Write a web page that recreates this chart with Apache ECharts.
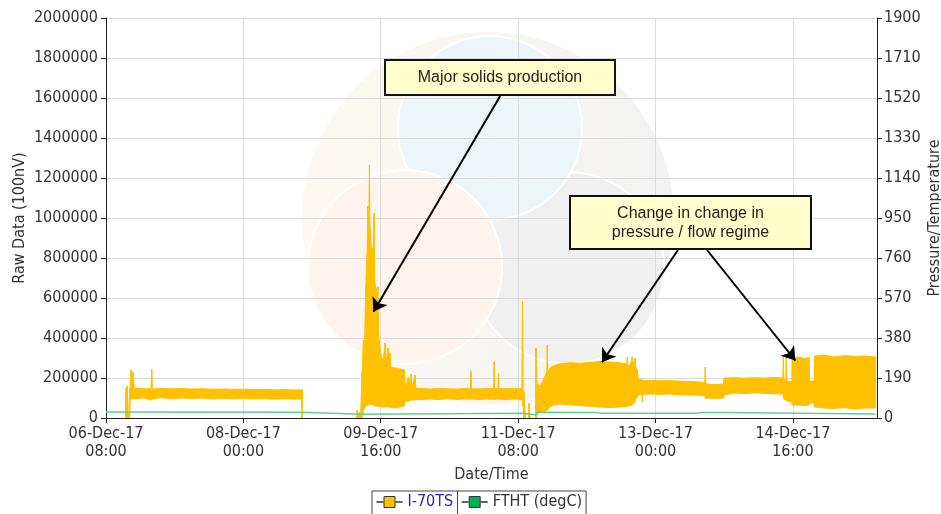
<!DOCTYPE html>
<html>
<head>
<meta charset="utf-8">
<script src="https://cdn.jsdelivr.net/npm/echarts@6/dist/echarts.min.js"></script>
<style>
  html, body { margin: 0; padding: 0; background: #ffffff; }
  #chart { width: 941px; height: 514px; }
</style>
</head>
<body>
<div id="chart"></div>
<script>
// x values are hours counted from 06-Dec-17 08:00
const startTime = Date.UTC(2017, 11, 6, 8, 0);
const monthNames = ['Jan','Feb','Mar','Apr','May','Jun','Jul','Aug','Sep','Oct','Nov','Dec'];
const xMaxHours = 224.5;

// I-70TS raw data envelope: hour, lowest and highest reading in each slot
const rawHours = [
  0, 5.7, 5.85, 6.2, 6.5, 6.9, 7.0, 7.3, 7.6, 7.9, 8.2, 9.5, 11, 13.1, 13.3, 13.5,
  16, 19, 22, 25, 28, 31, 34, 37, 40, 43, 46, 49, 52, 55, 57.0, 57.1, 57.2,
  72.9, 73.1, 73.4, 73.8, 74.1,
  74.58, 74.96, 75.3, 75.66, 76.04, 76.24, 76.42, 76.56, 76.71, 76.85, 77.12, 77.35,
  77.58, 77.78, 78.08, 78.22, 78.57, 78.86, 79.15, 79.33, 79.53, 79.91, 80.32, 80.7,
  81.28, 81.46, 82.16, 82.33, 82.74, 82.91, 84.19, 85.65, 86.82, 87.11, 88.07, 88.27,
  88.86, 89.03, 90.02, 90.2,
  92, 94.5, 97, 99.5, 102, 104.5, 106.1, 106.25, 106.4, 108.5, 111, 112.9, 113.04, 113.2,
  114.15, 114.29, 114.45, 116.5, 119, 121.1, 121.28, 121.45, 121.7, 121.9, 122.2,
  123.0, 123.2, 123.5, 125.05,
  125.2, 125.5, 126.4, 127.6, 128.4, 128.5, 128.65, 129.4, 130.2, 132.3, 135.2, 138.1,
  141.0, 143.9, 146.8, 149.7, 151.7, 151.8, 151.95, 152.6, 153.2, 153.35, 154.1, 154.25,
  154.7, 155.0, 156.1, 156.2, 156.35, 158.5, 161.4, 164.3, 167.2, 170.1, 172.5, 174.35,
  174.5, 174.65, 175.0, 177.5, 179.8, 180.0, 183, 186, 189, 192, 195, 197.1, 197.25,
  197.4, 198.0, 198.1, 198.25, 199.7, 199.85, 201.5, 203.2, 204.7, 204.8, 206.2, 206.3,
  209, 212, 215, 218, 221, 224.1
];
const rawLow = [
  0, 0, 0, 0, 0, 0, 95000, 90000, 95000, 100000, 95000, 98000, 100000, 90000, 90000, 95000,
  102000, 96000, 100000, 97000, 100000, 95000, 99000, 96000, 98000, 95000, 97000, 94000, 96000, 94000, 95000, 0, 0,
  0, 0, 0, 0, 0,
  0, 40000, 50000, 60000, 62000, 65000, 70000, 70000, 70000, 70000, 68000, 66000,
  65000, 65000, 64000, 62000, 60000, 60000, 60000, 60000, 58000, 56000, 55000, 55000,
  55000, 55000, 55000, 55000, 52000, 52000, 50000, 55000, 60000, 85000, 85000, 88000,
  90000, 90000, 90000, 92000,
  92000, 95000, 92000, 96000, 93000, 95000, 94000, 94000, 95000, 92000, 95000, 94000, 94000, 93000,
  95000, 95000, 94000, 92000, 95000, 93000, 85000, 60000, 0, 0, 0,
  0, 0, 0, 0,
  0, 20000, 30000, 30000, 40000, 40000, 45000, 55000, 65000, 70000, 65000, 62000,
  58000, 55000, 52000, 55000, 58000, 58000, 60000, 62000, 65000, 70000, 80000, 95000,
  105000, 115000, 118000, 80000, 118000, 120000, 118000, 120000, 116000, 115000, 114000, 112000,
  100000, 95000, 100000, 98000, 100000, 115000, 125000, 122000, 126000, 123000, 121000, 120000, 110000,
  95000, 90000, 90000, 85000, 80000, 65000, 65000, 62000, 65000, 75000, 75000, 55000,
  50000, 48000, 52000, 45000, 50000, 50000
];
const rawHigh = [
  0, 0, 150000, 160000, 20000, 0, 150000, 240000, 150000, 230000, 148000, 150000, 146000, 147000, 245000, 145000,
  148000, 146000, 147000, 145000, 146000, 144000, 145000, 143000, 144000, 142000, 143000, 141000, 142000, 140000, 141000, 141000, 0,
  0, 40000, 0, 30000, 0,
  230000, 390000, 380000, 655000, 820000, 1060000, 900000, 1000000, 1265000, 950000, 880000, 780000,
  850000, 720000, 1025000, 680000, 650000, 560000, 656000, 430000, 390000, 330000, 300000, 280000,
  375000, 270000, 350000, 260000, 325000, 255000, 250000, 245000, 240000, 150000, 205000, 150000,
  220000, 148000, 215000, 148000,
  147000, 145000, 148000, 146000, 145000, 147000, 146000, 232000, 145000, 146000, 148000, 147000, 282000, 146000,
  147000, 225000, 146000, 148000, 147000, 146000, 582000, 140000, 130000, 60000, 0,
  0, 75000, 0, 0,
  350000, 170000, 160000, 200000, 230000, 365000, 230000, 250000, 260000, 272000, 276000, 274000,
  279000, 282000, 280000, 276000, 270000, 305000, 265000, 262000, 305000, 258000, 300000, 250000,
  240000, 195000, 190000, 190000, 188000, 188000, 186000, 187000, 184000, 183000, 180000, 178000,
  255000, 175000, 170000, 167000, 170000, 200000, 202000, 199000, 201000, 200000, 202000, 200000, 305000,
  195000, 190000, 300000, 185000, 180000, 300000, 305000, 298000, 302000, 185000, 185000, 310000,
  315000, 305000, 312000, 308000, 310000, 305000
];

// FTHT (degC) on the right axis
const tempHours = [0, 57, 57.2, 74.5, 74.7, 121.5, 121.8, 125.2, 125.4, 143, 144, 172, 173, 180, 180.3, 224.1];
const tempValues = [29, 27, 18, 18, 22, 22, 14, 14, 27, 26, 22, 22, 26, 26, 19, 19];

// Axis ranges
const leftMax = 2000000, leftStep = 200000;
const rightMax = 1900, rightStep = 190;
const xStep = 40;

// Annotation arrows: [fromHour, fromValue, toHour, toValue] in left-axis units
const arrowSolids = [114.78, 1610000, 77.87, 531500];
const arrowRegimeA = [166.55, 840000, 144.41, 278500];
const arrowRegimeB = [175.0, 840000, 200.73, 287500];

const tickFont = "'DejaVu Sans Condensed', 'Liberation Sans', sans-serif";
const noteFont = "'Liberation Sans', Arial, sans-serif";

function pad(n) { return (n < 10 ? '0' : '') + n; }
function hourLabel(h) {
  const d = new Date(startTime + h * 3600000);
  return pad(d.getUTCDate()) + '-' + monthNames[d.getUTCMonth()] + '-' + String(d.getUTCFullYear()).slice(2) +
    '\n' + pad(d.getUTCHours()) + ':' + pad(d.getUTCMinutes());
}

const rawData = rawHours.map((h, i) => [h, rawLow[i], rawHigh[i]]);
const tempData = tempHours.map((h, i) => [h, tempValues[i]]);

// Legend marker: short line, square, short line
const legendIcon = 'path://M0,6h7v0.01h-7z M7.5,0.5h11v11h-11z M19,6h7v0.01h-7z';

function arrowLine(a) {
  return [{ coord: [a[0], a[1]] }, { coord: [a[2], a[3]] }];
}

const chart = echarts.init(document.getElementById('chart'), null, { renderer: 'canvas' });

chart.setOption({
  animation: false,
  backgroundColor: '#ffffff',
  grid: { left: 106, right: 64, top: 18, bottom: 96, containLabel: false, outerBoundsMode: 'none' },
  legend: {
    left: 372, top: 491,
    orient: 'horizontal',
    itemWidth: 26, itemHeight: 12, itemGap: 8,
    padding: [3, 4, 8, 4],
    borderColor: '#444', borderWidth: 1,
    textStyle: { fontSize: 16, fontFamily: tickFont, color: '#333' },
    selectedMode: false,
    data: [
      { name: 'I-70TS', icon: legendIcon,
        itemStyle: { color: '#ffc000', borderColor: '#333', borderWidth: 1 },
        textStyle: { color: '#2b2ba6' } },
      { name: 'FTHT (degC)', icon: legendIcon,
        itemStyle: { color: '#00b050', borderColor: '#333', borderWidth: 1 },
        textStyle: { color: '#333' } }
    ]
  },
  xAxis: {
    type: 'value', min: 0, max: xMaxHours, interval: xStep,
    name: 'Date/Time', nameLocation: 'middle', nameGap: 49, nameMoveOverlap: false,
    nameTextStyle: { fontSize: 16, fontFamily: tickFont, color: '#333' },
    axisLine: { show: true, lineStyle: { color: '#222', width: 1 } },
    axisTick: { show: true, length: 5, lineStyle: { color: '#222' } },
    axisLabel: {
      fontSize: 16, fontFamily: tickFont, color: '#333', lineHeight: 18, margin: 7,
      showMaxLabel: false,
      formatter: v => (v % xStep === 0 ? hourLabel(v) : '')
    },
    splitLine: { show: true, lineStyle: { color: '#dcdcdc', width: 1 } }
  },
  yAxis: [
    {
      type: 'value', min: 0, max: leftMax, interval: leftStep, position: 'left',
      name: 'Raw Data (100nV)', nameLocation: 'middle', nameGap: 78, nameRotate: 90,
      nameMoveOverlap: false,
      nameTextStyle: { fontSize: 16, fontFamily: tickFont, color: '#333' },
      axisLine: { show: true, lineStyle: { color: '#222', width: 1 } },
      axisTick: { show: true, length: 5, lineStyle: { color: '#222' } },
      axisLabel: { fontSize: 16, fontFamily: tickFont, color: '#333', margin: 8, formatter: v => String(v) },
      splitLine: { show: true, lineStyle: { color: '#dcdcdc', width: 1 } }
    },
    {
      type: 'value', min: 0, max: rightMax, interval: rightStep, position: 'right',
      name: 'Pressure/Temperature', nameLocation: 'middle', nameGap: 50, nameRotate: 90,
      nameMoveOverlap: false,
      nameTextStyle: { fontSize: 16, fontFamily: tickFont, color: '#333' },
      axisLine: { show: true, lineStyle: { color: '#222', width: 1 } },
      axisTick: { show: true, length: 5, lineStyle: { color: '#222' } },
      axisLabel: { fontSize: 16, fontFamily: tickFont, color: '#333', margin: 7, formatter: v => String(v) },
      splitLine: { show: false }
    }
  ],
  graphic: [
    // faint three-circle logo behind the plot
    { type: 'circle', z: -10, silent: true, shape: { cx: 488, cy: 218, r: 186 },
      style: { fill: new echarts.graphic.LinearGradient(0, 0, 1, 0, [
        { offset: 0, color: '#fdf9f1' },
        { offset: 1, color: '#f2f2f2' }
      ]) } },
    { type: 'circle', z: -9, silent: true, shape: { cx: 568, cy: 268, r: 96 },
      style: { fill: '#f0f0f0', stroke: '#ffffff', lineWidth: 2 } },
    { type: 'circle', z: -8, silent: true, shape: { cx: 490, cy: 128, r: 92 },
      style: { fill: '#eef5f9', stroke: '#ffffff', lineWidth: 2 } },
    { type: 'circle', z: -7, silent: true, shape: { cx: 405, cy: 267, r: 97 },
      style: { fill: '#fdf4ee', stroke: '#ffffff', lineWidth: 2 } },

    // annotation boxes
    { type: 'rect', z: 100, silent: true, shape: { x: 385, y: 60, width: 230, height: 35 },
      style: { fill: '#ffffcc', stroke: '#111', lineWidth: 2 } },
    { type: 'text', z: 101, silent: true, x: 500, y: 77.5,
      style: { text: 'Major solids production', font: '16px ' + noteFont, fill: '#222',
               align: 'center', verticalAlign: 'middle' } },
    { type: 'rect', z: 100, silent: true, shape: { x: 570, y: 196, width: 241, height: 53 },
      style: { fill: '#ffffcc', stroke: '#111', lineWidth: 2 } },
    { type: 'text', z: 101, silent: true, x: 690.5, y: 223,
      style: { text: 'Change in change in\npressure / flow regime', font: '16px ' + noteFont, fill: '#222',
               align: 'center', verticalAlign: 'middle', lineHeight: 19 } },

    // divider between legend entries
    { type: 'line', z: 100, silent: true, shape: { x1: 457.5, y1: 491, x2: 457.5, y2: 514 },
      style: { stroke: '#444', lineWidth: 1 } }
  ],
  series: [
    {
      name: 'I-70TS',
      type: 'custom',
      xAxisIndex: 0, yAxisIndex: 0,
      clip: true,
      z: 2,
      itemStyle: { color: '#ffc000' },
      encode: { x: 0, y: [1, 2] },
      data: rawData,
      renderItem: function (params, api) {
        const i = params.dataIndex;
        if (i >= rawHours.length - 1) return null;
        if (rawHigh[i] === 0 && rawHigh[i + 1] === 0) return null;
        const p1 = api.coord([rawHours[i], rawLow[i]]);
        const p2 = api.coord([rawHours[i], rawHigh[i]]);
        const p3 = api.coord([rawHours[i + 1], rawHigh[i + 1]]);
        const p4 = api.coord([rawHours[i + 1], rawLow[i + 1]]);
        return {
          type: 'polygon',
          shape: { points: [p1, p2, p3, p4] },
          style: { fill: '#ffc000', stroke: '#ffc000', lineWidth: 1 }
        };
      }
    },
    {
      name: 'FTHT (degC)',
      type: 'line',
      xAxisIndex: 0, yAxisIndex: 1,
      z: 3,
      showSymbol: false,
      itemStyle: { color: '#5fcf8f' },
      lineStyle: { color: '#5fcf8f', width: 1.5 },
      data: tempData
    },
    {
      name: 'notes',
      type: 'line',
      xAxisIndex: 0, yAxisIndex: 0,
      z: 5,
      data: [],
      markLine: {
        silent: true,
        symbol: ['none', 'arrow'],
        symbolSize: 13,
        label: { show: false },
        lineStyle: { color: '#000', width: 2, type: 'solid' },
        emphasis: { disabled: true },
        data: [arrowLine(arrowSolids), arrowLine(arrowRegimeA), arrowLine(arrowRegimeB)]
      }
    }
  ]
});
</script>
</body>
</html>
